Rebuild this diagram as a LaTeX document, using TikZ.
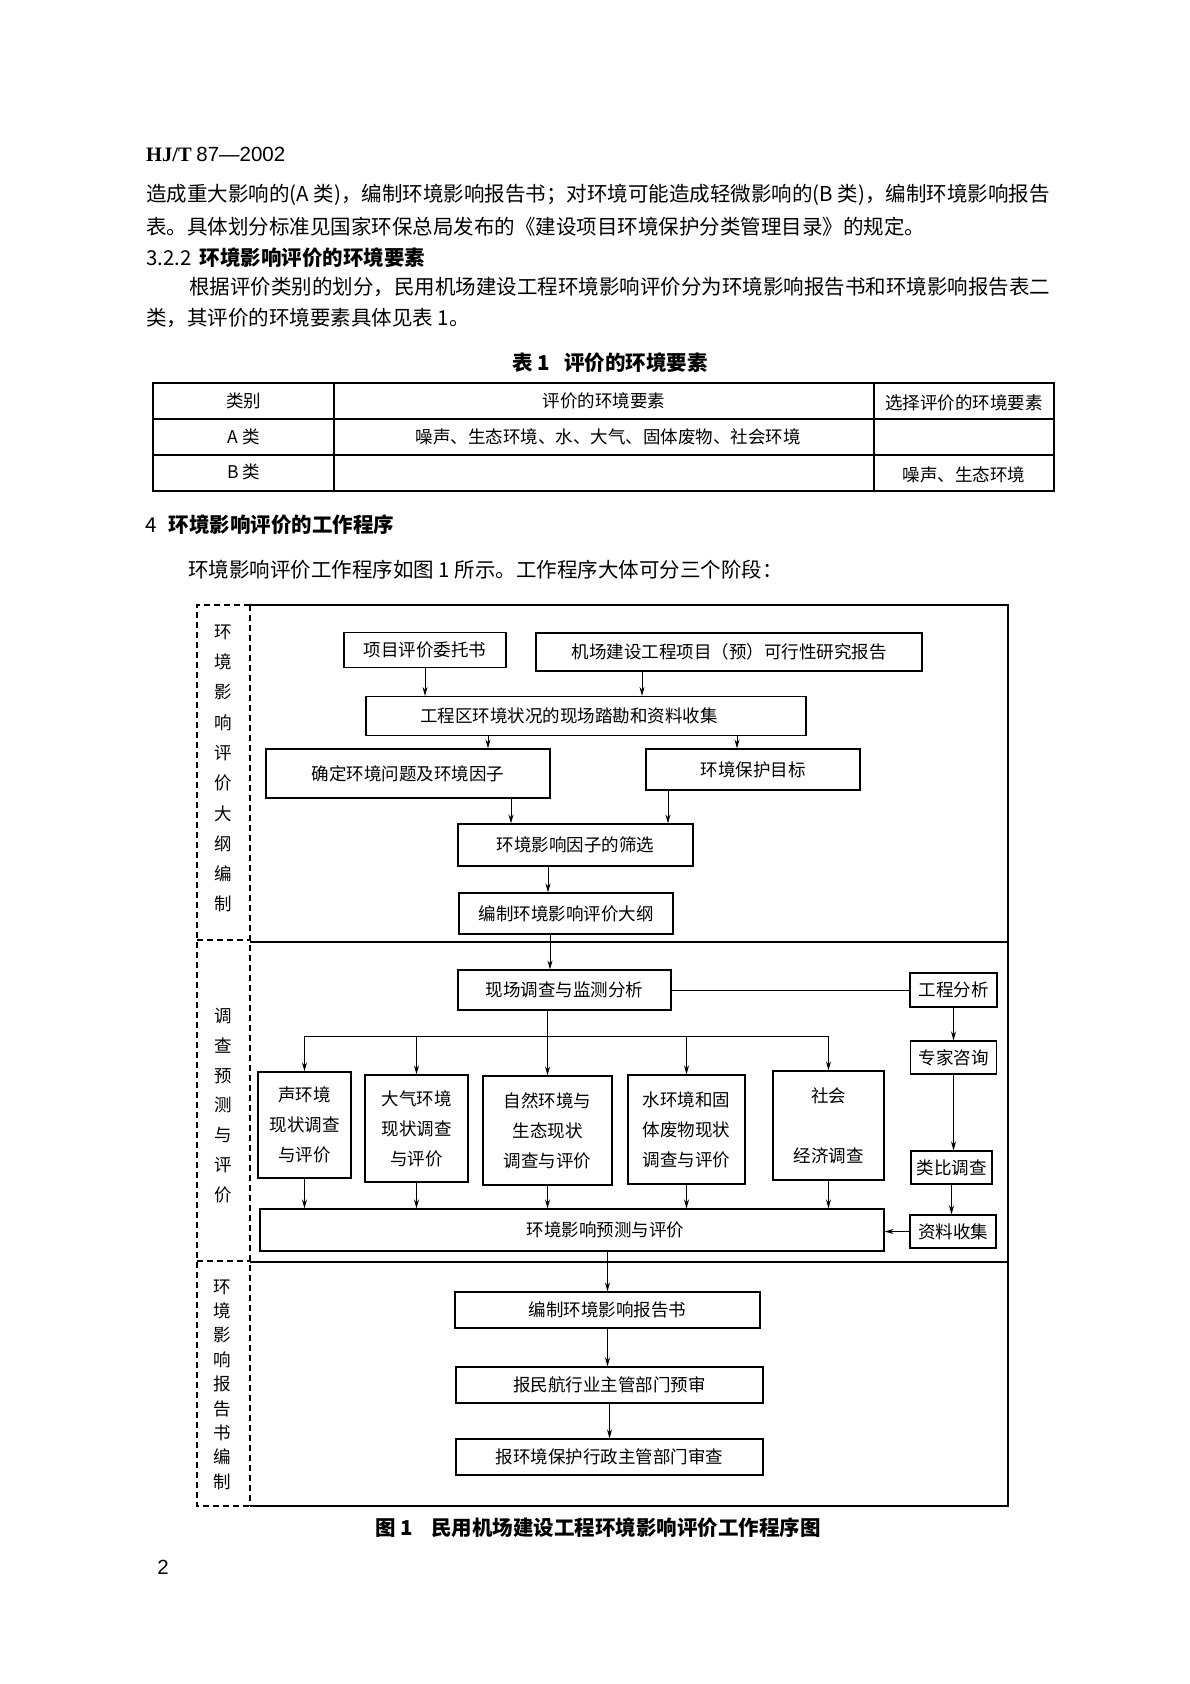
\documentclass[tikz,border=0pt]{standalone}
\usepackage{fontspec}
\setmainfont{Noto Sans CJK SC}
\newfontfamily\latinserif{Liberation Serif}
\newfontfamily\latinsans{Liberation Sans}
\usetikzlibrary{arrows.meta}
\XeTeXlinebreaklocale "zh"
\XeTeXlinebreakskip=0pt plus 2pt minus 0.5pt

\begin{document}
\begin{tikzpicture}[
    x=1pt, y=-1pt,
    box/.style={rectangle, draw, line width=1.2pt, inner sep=0pt, align=center, font=\fontsize{17.5}{30}\selectfont},
    arrow/.style={-{Stealth[length=9pt,width=5pt]}, line width=1pt},
    body/.style={anchor=west, inner sep=0pt, font=\fontsize{20.5}{31}\selectfont},
    head/.style={anchor=west, inner sep=0pt, font=\fontsize{20.5}{31}\selectfont\bfseries},
    cell/.style={inner sep=0pt, font=\fontsize{17.5}{20}\selectfont},
    stage/.style={inner sep=0pt, align=center, font=\fontsize{17.5}{30.3}\selectfont},
    frame/.style={line width=1.4pt},
    dframe/.style={line width=1.2pt, dash pattern=on 6pt off 4pt}
]
\fill[white] (0,0) rectangle (1190,1684);

% Page text
\node[anchor=west, inner sep=0pt, font=\fontsize{20.5}{24}\selectfont] (hd) at (146,154) {{\latinserif\bfseries HJ/T} {\latinsans 87—2002}};
\node[body, text width=917pt, align=justify] (l1) at (146,195) {\parfillskip=0pt 造成重大影响的(A 类)，编制环境影响报告书；对环境可能造成轻微影响的(B 类)，编制环境影响报告};
\node[body] (l2) at (146,227) {表。具体划分标准见国家环保总局发布的《建设项目环境保护分类管理目录》的规定。};
\node[head] (h322) at (146,258) {{\mdseries 3.2.2}\hspace{8pt}环境影响评价的环境要素};
\node[body, text width=874pt, align=justify] (l3) at (189,287) {\parfillskip=0pt 根据评价类别的划分，民用机场建设工程环境影响评价分为环境影响报告书和环境影响报告表二};
\node[body] (l4) at (146,318) {类，其评价的环境要素具体见表 1。};

% Table 1
\node[head, anchor=center] (tt) at (610,363) {表 1\hspace{14pt}评价的环境要素};
\draw[line width=1.8pt] (153,383) rectangle (1054,491);
\draw[line width=1.1pt] (153,419) -- (1054,419);
\draw[line width=1.1pt] (153,455) -- (1054,455);
\draw[line width=1.1pt] (334,383) -- (334,491);
\draw[line width=1.1pt] (874,383) -- (874,491);
\node[cell] (c11) at (243.5,401) {类别};
\node[cell] (c12) at (604,401) {评价的环境要素};
\node[cell] (c13) at (964,403) {选择评价的环境要素};
\node[cell] (c21) at (243.5,437) {A 类};
\node[cell] (c22) at (608,437) {噪声、生态环境、水、大气、固体废物、社会环境};
\node[cell] (c31) at (243.5,472) {B 类};
\node[cell] (c33) at (964,475) {噪声、生态环境};

\node[head] (h4) at (145,525) {{\mdseries 4}\hspace{12pt}环境影响评价的工作程序};
\node[body] (l5) at (188,570) {环境影响评价工作程序如图 1 所示。工作程序大体可分三个阶段：};

% Frame of figure 1
\draw[dframe] (250,605) -- (197,605) -- (197,1506) -- (250,1506);
\draw[dframe] (250,605) -- (250,1506);
\draw[dframe] (197,940) -- (250,940);
\draw[dframe] (197,1261) -- (250,1261);
\draw[frame] (250,605) -- (1008,605) -- (1008,1506) -- (250,1506);
\draw[frame] (250,942) -- (1008,942);
\draw[frame] (250,1262) -- (1008,1262);

% Stages
\node[stage] (st1) at (223.5,768.5) {环\\境\\影\\响\\评\\价\\大\\纲\\编\\制};
\node[stage, font=\fontsize{17.5}{29.8}\selectfont] (st2) at (223.5,1105.5) {调\\查\\预\\测\\与\\评\\价};
\node[stage, font=\fontsize{17.5}{24.4}\selectfont] (st3) at (222,1384.5) {环\\境\\影\\响\\报\\告\\书\\编\\制};

% Stage 1
\node[box, minimum width=162pt, minimum height=35pt] (wt) at (425,650) {项目评价委托书};
\node[box, minimum width=386pt, minimum height=38pt] (kx) at (729,652) {机场建设工程项目（预）可行性研究报告};
\node[box, minimum width=440pt, minimum height=39pt] (kc) at (586,716) {工程区环境状况的现场踏勘和资料收集\hspace*{34pt}};
\node[box, minimum width=284pt, minimum height=49pt] (qd) at (408,773.5) {确定环境问题及环境因子};
\node[box, minimum width=214pt, minimum height=41pt] (mb) at (753,769.5) {环境保护目标};
\node[box, minimum width=235pt, minimum height=42pt] (sx) at (575.5,845) {环境影响因子的筛选};
\node[box, minimum width=214pt, minimum height=41pt] (dg) at (566,913.5) {编制环境影响评价大纲};

% Stage 2
\node[box, minimum width=213pt, minimum height=40pt] (xc) at (564.5,990) {现场调查与监测分析};
\node[box, minimum width=87pt, minimum height=34pt] (gc) at (953.5,990) {工程分析};
\node[box, minimum width=86pt, minimum height=33pt] (zj) at (953.5,1057.5) {专家咨询};
\node[box, minimum width=81pt, minimum height=33pt] (lb) at (951.5,1167.5) {类比调查};
\node[box, minimum width=86pt, minimum height=33pt] (zl) at (953,1231.5) {资料收集};
\node[box, minimum width=93pt, minimum height=106pt] (s1) at (304.5,1125) {声环境\\现状调查\\与评价};
\node[box, minimum width=103pt, minimum height=107pt] (s2) at (416.5,1128.5) {大气环境\\现状调查\\与评价};
\node[box, minimum width=129pt, minimum height=109pt] (s3) at (547.5,1130.5) {自然环境与\\生态现状\\调查与评价};
\node[box, minimum width=117pt, minimum height=109pt] (s4) at (686.5,1129.5) {水环境和固\\体废物现状\\调查与评价};
\node[box, minimum width=111pt, minimum height=109pt] (s5) at (828.5,1125.5) {社会\\[30pt]经济调查};
\node[box, minimum width=624pt, minimum height=42pt] (yc) at (572,1230) {\hspace*{67pt}环境影响预测与评价};
\coordinate (bus) at (0,1036);

% Stage 3
\node[box, minimum width=305pt, minimum height=36pt] (bg) at (607.5,1310) {编制环境影响报告书};
\node[box, minimum width=307pt, minimum height=36pt] (ys) at (609.5,1385) {报民航行业主管部门预审};
\node[box, minimum width=307pt, minimum height=36pt] (sc) at (609.5,1457) {报环境保护行政主管部门审查};

% Arrows
\draw[arrow] (wt.south) -- (wt.south |- kc.north);
\draw[arrow] ([xshift=-87pt]kx.south) -- ([xshift=-87pt]kx.south |- kc.north);
\draw[arrow] ([xshift=80pt]qd.north |- kc.south) -- ([xshift=80pt]qd.north);
\draw[arrow] ([xshift=-16pt]mb.north |- kc.south) -- ([xshift=-16pt]mb.north);
\draw[arrow] ([xshift=103pt]qd.south) -- ([xshift=103pt]qd.south |- sx.north);
\draw[arrow] ([xshift=-85pt]mb.south) -- ([xshift=-85pt]mb.south |- sx.north);
\draw[arrow] ([xshift=-18pt]dg.north |- sx.south) -- ([xshift=-18pt]dg.north);
\draw[arrow] ([xshift=-16pt]dg.south) -- ([xshift=-16pt]dg.south |- xc.north);
\draw[line width=1pt] (xc.east) -- (gc.west);
\draw[arrow] (s3.north |- xc.south) -- (s3.north);
\draw[line width=1pt] (s1.north |- bus) -- (s5.north |- bus);
\foreach \b in {s1,s2,s4,s5}
  \draw[arrow] (\b.north |- bus) -- (\b.north);
\foreach \b in {s1,s2,s3,s4,s5}
  \draw[arrow] (\b.south) -- (\b.south |- yc.north);
\draw[arrow] (gc.south) -- (gc.south |- zj.north);
\draw[arrow] (zj.south) -- (zj.south |- lb.north);
\draw[arrow] (lb.south) -- (lb.south |- zl.north);
\draw[arrow] (zl.west) -- (zl.west -| yc.east);
\draw[arrow] (bg.north |- yc.south) -- (bg.north);
\draw[arrow] (bg.south) -- (bg.south |- ys.north);
\draw[arrow] (ys.south) -- (ys.south |- sc.north);

% Caption and page number
\node[head, anchor=center] (cap) at (598,1528) {图 1\hspace{18pt}民用机场建设工程环境影响评价工作程序图};
\node[body, anchor=center] (pg) at (163,1567) {\latinsans 2};

\end{tikzpicture}
\end{document}
